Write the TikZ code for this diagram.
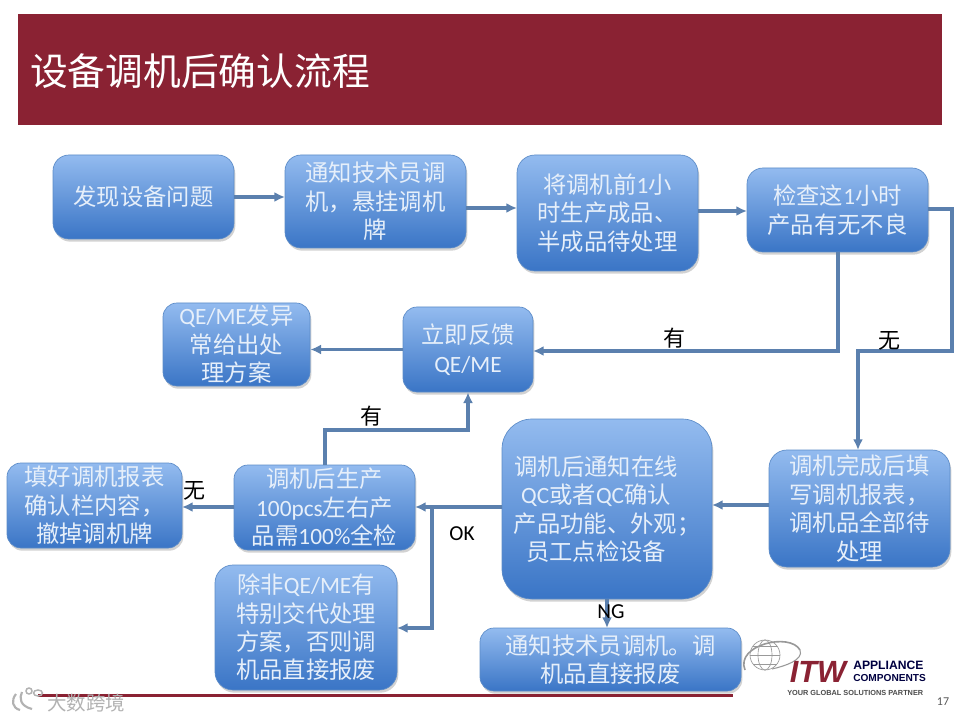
\documentclass[tikz,border=0pt]{standalone}
\usepackage{fontspec}
\setmainfont{Noto Sans CJK SC}
\newfontfamily\lat{Carlito}
\newfontfamily\logof{Liberation Sans}
\usetikzlibrary{shadows,arrows.meta}
\definecolor{banner}{HTML}{8A2233}
\definecolor{boxtop}{HTML}{93BBEF}
\definecolor{boxbot}{HTML}{3A75C6}
\definecolor{boxedge}{HTML}{5C8CC8}
\definecolor{conn}{HTML}{5B80AE}
\definecolor{boxtext}{HTML}{E6EFFA}
\newcommand{\qeme}{{\lat QE/ME}}
\newcommand{\padr}{\hspace*{16.5pt}}
\tikzset{
  flowbox/.style n args={3}{rectangle,rounded corners=#3*.75pt,minimum width=#1*.75pt,minimum height=#2*.75pt,
    inner sep=0pt,top color=boxtop,bottom color=boxbot,draw=boxedge,line width=.5pt,text=boxtext,align=center,
    font=\fontsize{17.5pt}{21.3pt}\selectfont,drop shadow={shadow xshift=1pt,shadow yshift=-2pt,opacity=.35}},
  link/.style={draw=conn,line width=2.4pt,-{Latex[length=8pt,width=7.5pt]}},
  lab/.style={text=black,inner sep=0pt,font=\fontsize{16.5pt}{20pt}\selectfont},
  latlab/.style={text=black,inner sep=0pt,font=\lat\fontsize{16pt}{20pt}\selectfont}
}
\begin{document}
\begin{tikzpicture}[x=.75pt,y=-.75pt]
\useasboundingbox (0,0) rectangle (960,720);
\fill[white] (0,0) rectangle (960,720);
\fill[banner] (18,14) rectangle (942,125);
\node[text=white,inner sep=0pt,anchor=west,font=\fontsize{28.3pt}{32pt}\selectfont] (title) at (30,71) {设备调机后确认流程};

\node[flowbox={181}{84}{16}] (A) at (143.5,197) {发现设备问题};
\node[flowbox={181}{93}{16}] (B) at (375.5,201.5) {通知技术员调\\机，悬挂调机\\牌};
\node[flowbox={181}{116}{18}] (C) at (607.5,213) {将调机前{\lat 1}小\\时生产成品、\\半成品待处理};
\node[flowbox={181}{84}{16}] (D) at (837.5,210) {检查这{\lat 1}小时\\产品有无不良};
\node[flowbox={147}{83}{14}] (E) at (236.5,344.5) {\qeme 发异\\常给出处\\理方案};
\node[flowbox={130}{85}{14}] (F) at (468,349.5) {立即反馈\\\qeme};
\node[flowbox={181}{117}{18}] (G) at (859.5,508.5) {调机完成后填\\写调机报表，\\调机品全部待\\处理};
\node[flowbox={210}{180}{30}] (H) at (607,509) {调机后通知在线\padr\\\mbox{{\lat QC}或者{\lat QC}确认\padr}\\产品功能、外观；\\员工点检设备\padr};
\node[flowbox={181}{85}{14}] (I) at (324.5,507.5) {调机后生产\\{\lat 100pcs}左右产\\品需{\lat 100\%}全检};
\node[flowbox={175}{85}{14}] (J) at (94.5,505.5) {填好调机报表\\确认栏内容，\\撤掉调机牌};
\node[flowbox={182}{125}{18}] (K) at (306,627.5) {除非\qeme 有\\特别交代处理\\方案，否则调\\机品直接报废};
\node[flowbox={261}{63}{14}] (L) at (610.5,659.5) {通知技术员调机。调\\机品直接报废};

\coordinate (Aout) at (234,197);  \coordinate (Bin) at (285,197);
\coordinate (Bout) at (466,208);  \coordinate (Cin) at (517,208);
\coordinate (Cout) at (698,211);  \coordinate (Din) at (747,211);
\coordinate (Ds) at (838,252);    \coordinate (Dturn) at (838,351);
\coordinate (Fin) at (533,351);
\coordinate (De) at (928,209);    \coordinate (R1) at (952,209);
\coordinate (R2) at (952,351);    \coordinate (R3) at (858,351);
\coordinate (Gin) at (858,450);
\coordinate (Gout) at (769,505);  \coordinate (Hin) at (712,505);
\coordinate (Hout) at (502,507);  \coordinate (Iin) at (415,507);
\coordinate (Br) at (432,507);    \coordinate (Brd) at (432,628);
\coordinate (Kin) at (397,628);
\coordinate (It) at (325,465);    \coordinate (U1) at (325,430);
\coordinate (U2) at (468,430);
\coordinate (Iw) at (234,507);    \coordinate (Je) at (182,507);
\coordinate (Hs) at (607,599);    \coordinate (Ln) at (607,628);

\draw[link] (Aout) -- (Bin);
\draw[link] (Bout) -- (Cin);
\draw[link] (Cout) -- (Din);
\draw[link] (Ds) -- (Dturn) -- (Fin);
\draw[link] (F.west) -- (F.west -| E.east);
\draw[link] (De) -- (R1) -- (R2) -- (R3) -- (Gin);
\draw[link] (Gout) -- (Hin);
\draw[link] (Hout) -- (Iin);
\draw[link] (Br) -- (Brd) -- (Kin);
\draw[link] (It) -- (U1) -- (U2) -- (F.south);
\draw[link] (Iw) -- (Je);
\draw[link] (Hs) -- (Ln);

\node[lab] (l1) at (674,338) {有};
\node[lab] (l2) at (889,341) {无};
\node[lab] (l3) at (371,416) {有};
\node[lab] (l4) at (194,491) {无};
\node[latlab] (l5) at (462,534) {OK};
\node[latlab] (l6) at (611,612) {NG};

% footer rule and watermark
\coordinate (ruleL) at (38,695.5); \coordinate (ruleR) at (733,695.5);
\draw[banner,line width=1.6pt] (ruleL) -- (ruleR);
\draw[black!30,line width=1.6pt] (16,694) .. controls (11,700) and (12,708) .. (20,710);
\draw[black!30,line width=1.6pt] (22,692) .. controls (19,698) and (20,706) .. (32,709);
\draw[black!30,line width=1.1pt] (29,691) circle (3);
\draw[black!30,line width=1.1pt] (38,693) ellipse (4.5 and 3);
\node[text=black!30,inner sep=0pt,font=\fontsize{14.6pt}{16pt}\selectfont] (wm) at (86,703) {大数跨境};

% logo
\begin{scope}[draw=black!40,line width=.5pt]
\draw (765,655) circle (15);
\draw (765,655) ellipse (7 and 15);
\draw (750,655) -- (780,655);
\draw (753,646) -- (777,646);
\draw (753,664) -- (777,664);
\draw[line width=1.2pt] (745,670) .. controls (735,645) and (790,632) .. (800,650);
\draw[line width=.8pt] (800,650) .. controls (804,660) and (785,666) .. (772,669);
\end{scope}
\node[text=banner,inner sep=0pt,font=\logof\bfseries\itshape\fontsize{23pt}{24pt}\selectfont] (itw) at (818,672) {ITW};
\node[text=black!75!blue,inner sep=0pt,anchor=west,align=left,font=\logof\bfseries] (la) at (853,671) {\fontsize{9.1pt}{9pt}\selectfont APPLIANCE\\[-3.2pt]\fontsize{7.6pt}{9pt}\selectfont COMPONENTS};
\node[text=black!70,inner sep=0pt,anchor=west,font=\logof\bfseries\fontsize{5.5pt}{6pt}\selectfont] (lc) at (787,693) {YOUR GLOBAL SOLUTIONS PARTNER};
\node[text=black!65,inner sep=0pt,font=\lat\fontsize{9pt}{10pt}\selectfont] (pg) at (943,702) {17};
\end{tikzpicture}
\end{document}
